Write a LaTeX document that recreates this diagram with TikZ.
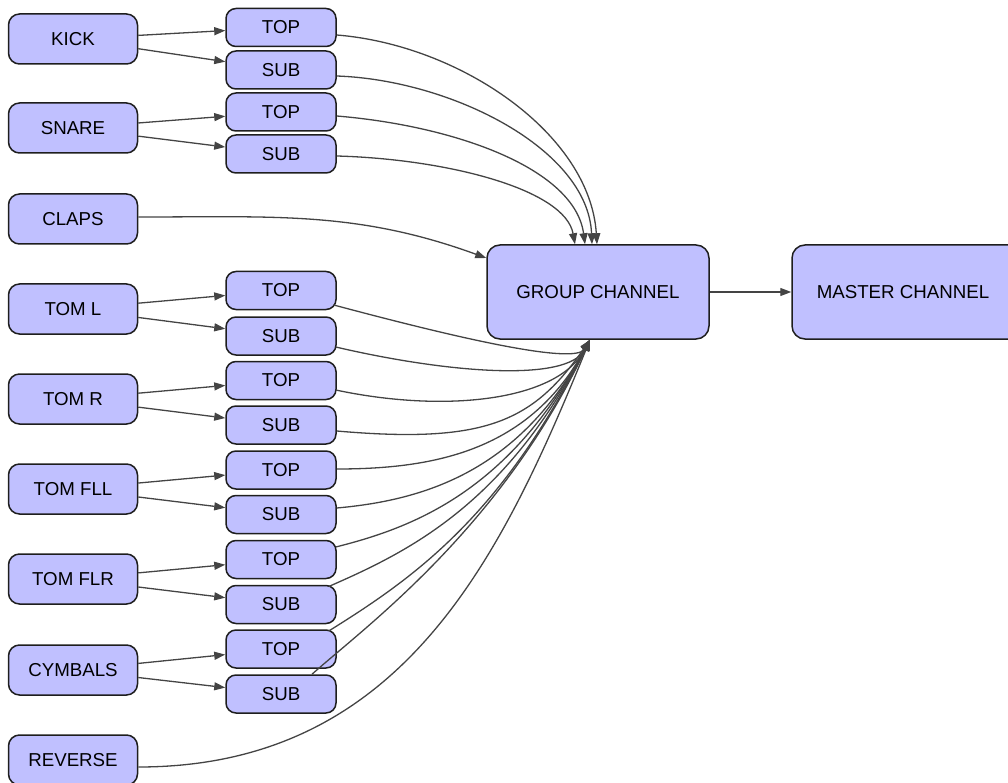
\documentclass[tikz,border=0pt]{standalone}
\usepackage{fontspec}
\setmainfont{Liberation Sans}
\usetikzlibrary{arrows.meta}
\definecolor{nodefill}{RGB}{192,192,255}
\definecolor{nodeline}{RGB}{30,30,30}
\definecolor{edgecol}{RGB}{68,68,68}
\begin{document}
\begin{tikzpicture}[x=1pt,y=1pt,
  box/.style={draw=nodeline, fill=nodefill, line width=1.5pt, rounded corners=11pt,
    inner sep=0pt, font=\fontsize{18.7}{22}\selectfont, align=center},
  bigbox/.style={box, minimum width=129pt, minimum height=50pt},
  smallbox/.style={box, minimum width=110pt, minimum height=38pt, rounded corners=10pt},
  chanbox/.style={box, minimum width=222pt, minimum height=94pt, rounded corners=13pt},
  edge/.style={draw=edgecol, line width=1.3pt, -{Triangle[length=11pt,width=8pt]}}
]
\useasboundingbox (0,0) rectangle (1008,-783);

% source nodes
\node[bigbox] (kick)  at (73,-39)  {KICK};
\node[bigbox] (snare) at (73,-128) {SNARE};
\node[bigbox] (claps) at (73,-219) {CLAPS};
\node[bigbox] (toml)  at (73,-309) {TOM L};
\node[bigbox] (tomr)  at (73,-399) {TOM R};
\node[bigbox] (fll)   at (73,-489) {TOM FLL};
\node[bigbox] (flr)   at (73,-579) {TOM FLR};
\node[bigbox] (cym)   at (73,-670) {CYMBALS};
\node[bigbox] (rev)   at (73,-760) {REVERSE};

% top / sub nodes
\node[smallbox] (ktop)   at (281,-27.5) {TOP};
\node[smallbox] (ksub)   at (281,-70)   {SUB};
\node[smallbox] (stop)   at (281,-112)  {TOP};
\node[smallbox] (ssub)   at (281,-154)  {SUB};
\node[smallbox] (ltop)   at (281,-290.5) {TOP};
\node[smallbox] (lsub)   at (281,-336)  {SUB};
\node[smallbox] (rtop)   at (281,-380.5) {TOP};
\node[smallbox] (rsub)   at (281,-425)  {SUB};
\node[smallbox] (flltop) at (281,-470)  {TOP};
\node[smallbox] (fllsub) at (281,-514.5) {SUB};
\node[smallbox] (flrtop) at (281,-559.5) {TOP};
\node[smallbox] (flrsub) at (281,-604.5) {SUB};
\node[smallbox] (cymtop) at (281,-649)  {TOP};
\node[smallbox] (cymsub) at (281,-694)  {SUB};

% channels
\node[chanbox] (group)  at (598,-292) {GROUP CHANNEL};
\node[chanbox, minimum width=240pt] (master) at (912,-292) {MASTER CHANNEL\hspace*{18pt}};

% splits
\foreach \s/\t/\b in {kick/ktop/ksub, snare/stop/ssub, toml/ltop/lsub, tomr/rtop/rsub,
                      fll/flltop/fllsub, flr/flrtop/flrsub, cym/cymtop/cymsub}{
  \draw[edge] (\s) -- (\t);
  \draw[edge] (\s) -- (\b);
}

% into the top of the group channel
\draw[edge] ([yshift=-7.5]ktop.east) .. controls +(124,-10) and +(-7,110) .. ([xshift=-1]group.north);
\draw[edge] ([yshift=-6]ksub.east) .. controls +(115,-4) and +(-4,95) .. ([xshift=-6]group.north);
\draw[edge] ([yshift=-4]stop.east) .. controls +(120,-10) and +(-10,75) .. ([xshift=-13]group.north);
\draw[edge] ([yshift=-2]ssub.east) .. controls +(110,-3) and +(-10,55) .. ([xshift=-23]group.north);
\draw[edge] ([yshift=2]claps.east) .. controls +(137,0) and +(-129,47) .. ([yshift=34]group.west);

% into the bottom of the group channel
\coordinate (gin) at ([xshift=-8]group.south);
\draw[edge] ([shift={(-3,-14.5)}]ltop.east) .. controls +(116,-31) and +(-15,-26) .. (gin);
\draw[edge] ([shift={(-1,-11)}]lsub.east) .. controls +(107,-25) and +(-23,-44) .. (gin);
\draw[edge] ([shift={(-1,-9.5)}]rtop.east) .. controls +(108,-23) and +(-33,-62) .. (gin);
\draw[edge] ([yshift=-6]rsub.east) .. controls +(149,-13) and +(-57,-82) .. (gin);
\draw[edge] ([yshift=1]flltop.east) .. controls +(100,0) and +(-60,-110) .. (gin);
\draw[edge] ([yshift=6.5]fllsub.east) .. controls +(90,8) and +(-70,-130) .. (gin);
\draw[edge] ([shift={(-1,12.5)}]flrtop.east) .. controls +(80,20) and +(-80,-150) .. (gin);
\draw[edge] ([shift={(-8,18)}]flrsub.east) .. controls +(80,35) and +(-85,-165) .. (gin);
\draw[edge] ([shift={(-8,18)}]cymtop.east) .. controls +(80,50) and +(-90,-180) .. (gin);
\draw[edge] ([xshift=31]cymsub.north) .. controls +(50,45) and +(-90,-190) .. (gin);
\draw[edge] ([yshift=-7]rev.east) .. controls +(262,0) and +(-90,-221) .. (gin);

% to master
\draw[edge] (group.east) -- (master.west);
\end{tikzpicture}
\end{document}
